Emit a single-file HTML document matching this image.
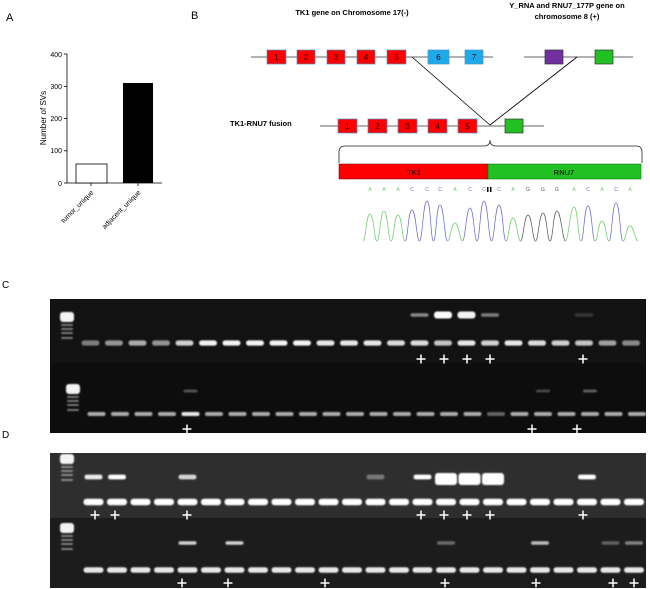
<!DOCTYPE html>
<html><head><meta charset="utf-8"><style>
html,body{margin:0;padding:0;background:#fff;width:650px;height:589px;overflow:hidden}
svg{display:block}
text{font-family:"Liberation Sans",Arial,sans-serif}
</style></head><body>
<svg id="s" width="650" height="589" viewBox="0 0 650 589" xmlns="http://www.w3.org/2000/svg">
<defs>
<filter id="bl" x="-50%" y="-100%" width="200%" height="300%"><feGaussianBlur stdDeviation="0.9"/></filter>
</defs>
<!-- Panel A -->
<text x="6" y="21" font-size="11">A</text>
<g font-size="7" fill="#000">
<line x1="67" y1="54" x2="67" y2="183" stroke="#000" stroke-width="0.8"/>
<line x1="67" y1="183" x2="162" y2="183" stroke="#000" stroke-width="0.8"/>
<g stroke="#000" stroke-width="0.8">
<line x1="64" y1="54" x2="67" y2="54"/><line x1="64" y1="86.3" x2="67" y2="86.3"/><line x1="64" y1="118.5" x2="67" y2="118.5"/><line x1="64" y1="150.8" x2="67" y2="150.8"/><line x1="64" y1="183" x2="67" y2="183"/>
<line x1="91" y1="183" x2="91" y2="186"/><line x1="138" y1="183" x2="138" y2="186"/>
</g>
<text x="62" y="57" text-anchor="end">400</text>
<text x="62" y="89" text-anchor="end">300</text>
<text x="62" y="121" text-anchor="end">200</text>
<text x="62" y="153" text-anchor="end">100</text>
<text x="62" y="186" text-anchor="end">0</text>
<text transform="translate(46,118) rotate(-90)" text-anchor="middle" font-size="8">Number of  SVs</text>
<rect x="76" y="164" width="31" height="19" fill="#fff" stroke="#000" stroke-width="0.8"/>
<rect x="123" y="83" width="30" height="100" fill="#000"/>
<text transform="translate(94,193) rotate(-45)" text-anchor="end" font-size="7">tumor_unique</text>
<text transform="translate(141,193) rotate(-45)" text-anchor="end" font-size="7">adjacent_unique</text>
</g>
<!-- Panel B -->
<text x="191" y="19" font-size="11">B</text>
<text x="352" y="15" font-size="7.5" font-weight="bold" text-anchor="middle">TK1 gene on Chromosome 17(-)</text>
<text x="567" y="8" font-size="7.5" font-weight="bold" text-anchor="middle">Y_RNA and RNU7_177P gene on</text>
<text x="567" y="19" font-size="7.5" font-weight="bold" text-anchor="middle">chromosome 8 (+)</text>
<g stroke="#333" stroke-width="0.8">
<line x1="251" y1="57" x2="493" y2="57"/>
<line x1="524" y1="57" x2="633" y2="57"/>
<line x1="320" y1="126" x2="544" y2="126"/>
<line x1="412" y1="57" x2="490" y2="125" stroke="#000"/>
<line x1="577" y1="57" x2="490" y2="125" stroke="#000"/>
</g>
<g id="ex" font-size="8" text-anchor="middle"></g>
<text x="230" y="126" font-size="7.5" font-weight="bold">TK1-RNU7 fusion</text>
<path d="M339,163 V152 Q339,146 345,146 H484 Q490,146 490,140 Q490,146 496,146 H636 Q642,146 642,152 V163" fill="none" stroke="#222" stroke-width="0.8"/>
<rect x="339" y="164" width="149" height="15" fill="#f00" stroke="#600" stroke-width="0.5"/>
<rect x="488" y="164" width="153" height="15" fill="#22c022" stroke="#060" stroke-width="0.5"/>
<text x="414" y="175" font-size="7.5" text-anchor="middle">TK1</text>
<text x="564" y="175" font-size="7.5" text-anchor="middle">RNU7</text>
<g id="seq" font-size="5" text-anchor="middle"></g>
<rect x="487" y="187" width="1.5" height="5" fill="#000"/><rect x="490" y="187" width="1.5" height="5" fill="#000"/>
<g id="chrom" fill="none" stroke-width="0.7"></g>
<text x="2" y="288" font-size="10">C</text>
<text x="2" y="438" font-size="10">D</text>
<rect x="50" y="299" width="596" height="134" fill="#0d0d0d"/>
<rect x="50" y="299" width="596" height="64" fill="#121212"/>
<rect x="50" y="453" width="596" height="135" fill="#1c1c1c"/>
<rect x="50" y="453" width="596" height="65" fill="#2e2e2e"/>
<g id="gel"></g>
<g id="plus" stroke="#fff" stroke-width="1.5"></g>
</svg>
<script>
var NS="http://www.w3.org/2000/svg";
function el(p,t,a){var e=document.createElementNS(NS,t);for(var k in a)e.setAttribute(k,a[k]);p.appendChild(e);return e;}
var ex=document.getElementById('ex');
function exon(x1,x2,y,fill,lab){el(ex,'rect',{x:x1,y:y,width:x2-x1,height:14,fill:fill,stroke:'#4a8fc8','stroke-width':0.7});if(lab){var t=el(ex,'text',{x:(x1+x2)/2,y:y+10,'font-family':'Liberation Serif',fill:'#300'});t.textContent=lab;}}
[[267,286],[297,315],[327,345],[357,375],[387,406]].forEach(function(a,i){exon(a[0],a[1],50,'#f00',''+(i+1));});
exon(428,449,50,'#1eaaea','6');exon(465,483,50,'#1eaaea','7');
el(ex,'rect',{x:545,y:50,width:18,height:14,fill:'#7030a0',stroke:'#333','stroke-width':0.7});
el(ex,'rect',{x:595,y:50,width:18,height:14,fill:'#22c022',stroke:'#333','stroke-width':0.7});
[[338,357],[368,387],[398,417],[428,447],[458,477]].forEach(function(a,i){exon(a[0],a[1],119,'#f00',''+(i+1));});
el(ex,'rect',{x:505,y:119,width:18,height:14,fill:'#22c022',stroke:'#333','stroke-width':0.7});
var px=[370,384,398,412,427,440,455,470,484,499,513,528,543,557,574,588,602,616,630];
var py=[214,211,215,210,201,205,223,208,201,205,218,215,213,211,207,206,221,203,226];
var cl="gggbbbgbbbgkkkgbgbg";var lt="AAACCCACCCAGGGACACA";
var col={g:'#6c6',b:'#66c',k:'#555'};
var sq=document.getElementById('seq'),ch=document.getElementById('chrom');
for(var i=0;i<px.length;i++){var t=el(sq,'text',{x:px[i],y:191,fill:col[cl[i]]});t.textContent=lt[i];
 var x0=i?(px[i-1]+px[i])/2:px[0]-7,x1=i<px.length-1?(px[i]+px[i+1])/2:px[i]+8,b=241;
 var d='M'+x0+','+b+' C'+(x0+3)+','+b+' '+(px[i]-4)+','+py[i]+' '+px[i]+','+py[i]+' C'+(px[i]+4)+','+py[i]+' '+(x1-3)+','+b+' '+x1+','+b;
 el(ch,'path',{d:d,stroke:col[cl[i]]});}
var g=document.getElementById('gel');
function band(x,y,w,h,o){el(g,'rect',{x:x-w,y:y-h,width:2*w,height:2*h,rx:Math.min(h,3),fill:'#fff','fill-opacity':o,filter:'url(#bl)'});}
function ladder(x,y0){band(x,y0,7,5,0.95);[8,12,16,21].forEach(function(d){band(x,y0+d,6,0.9,0.5);});}
ladder(67,317);ladder(73,389);ladder(67,459);ladder(67,528);
function L(i,s){return 90.5+23.5*i+(s||0);}
var cU=[.45,.55,.65,.55,.8,.95,.95,.95,.95,.95,.9,.9,.9,.85,.85,.75,.9,.8,.9,.85,.8,.75,.6,.5];
for(var i=0;i<24;i++)band(L(i),343,9,2.6,cU[i]);
[[14,.5],[15,1],[16,.95],[17,.45],[21,.15]].forEach(function(a){band(L(a[0]),315,9,a[1]>.8?3.5:1.8,a[1]);});
for(var i=0;i<24;i++)band(L(i,6),414,9,2,i==4?.9:(i==17?.35:.65));
[[4,.3],[19,.25],[21,.35]].forEach(function(a){band(L(a[0],6),391,7,1.4,a[1]);});
for(var i=0;i<24;i++)band(L(i,3),502,10,3.2,1);
[[0,.9],[1,1],[4,.8],[12,.35],[14,1],[15,1],[16,1],[17,1],[21,1]].forEach(function(a){var big=a[0]>=15&&a[0]<=17;band(L(a[0],3),big?479:477,big?11:9,big?6:2.4,a[1]);});
for(var i=0;i<24;i++)band(L(i,3),570,10,2.8,.9);
[[4,.8],[6,.8],[15,.35],[19,.7],[22,.3],[23,.45]].forEach(function(a){band(L(a[0],3),543,9,1.8,a[1]);});
var p=document.getElementById('plus');
function plus(x,y){el(p,'line',{x1:x-4.5,y1:y,x2:x+4.5,y2:y});el(p,'line',{x1:x,y1:y-4.5,x2:x,y2:y+4.5});}
[421,444,467,490,583].forEach(function(x){plus(x,359);});
[187,532,577].forEach(function(x){plus(x,429);});
[95,115,187,421,444,467,490,583].forEach(function(x){plus(x,515);});
[182,228,325,445,536,613,634].forEach(function(x){plus(x,583);});
</script>
</body></html>
